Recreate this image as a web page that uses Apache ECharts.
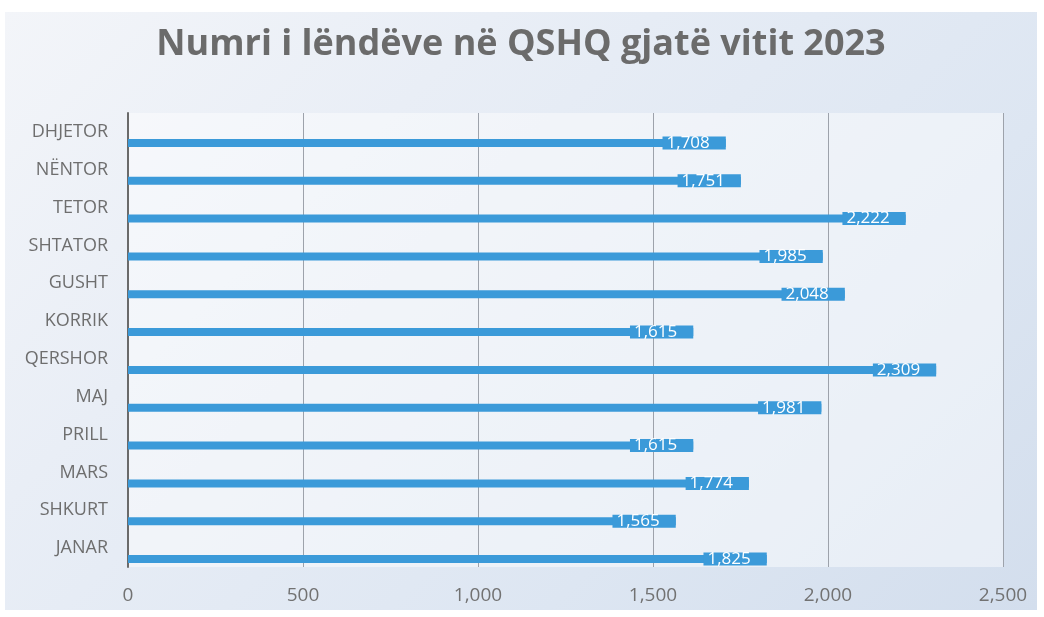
<!DOCTYPE html>
<html>
<head>
<meta charset="utf-8">
<script src="https://cdn.jsdelivr.net/npm/echarts@6/dist/echarts.min.js"></script>
<style>
html,body{margin:0;padding:0;background:#ffffff;}
#wrap{position:absolute;left:5px;top:12px;width:1032px;height:598px;
background:linear-gradient(135deg,#f3f5f9 0%,#e9eef6 30%,#dde6f2 70%,#d3deed 100%);}
#chart{width:1032px;height:598px;}
</style>
</head>
<body>
<div id="wrap"><div id="chart"></div></div>
<script>
const categories = ['JANAR','SHKURT','MARS','PRILL','MAJ','QERSHOR','KORRIK','GUSHT','SHTATOR','TETOR','NËNTOR','DHJETOR'];
const values = [1825,1565,1774,1615,1981,2309,1615,2048,1985,2222,1751,1708];
const xTicks = [0,500,1000,1500,2000,2500];
const titleText = 'Numri i lëndëve në QSHQ gjatë vitit 2023';

const chart = echarts.init(document.getElementById('chart'), null, {renderer:'canvas'});
const fontFam = '"Open Sans", sans-serif';
chart.setOption({
  backgroundColor: 'transparent',
  animation: false,
  title: {
    text: titleText,
    left: 'center',
    top: 10,
    padding: [5, 0, 5, 38],
    textStyle: {fontFamily: fontFam, fontSize: 36, fontWeight: 'bold', color: '#6b6b6b'}
  },
  grid: {left: 123, top: 101, width: 875, height: 454, show: true,
         backgroundColor: 'rgba(255,255,255,0.45)', borderWidth: 0},
  xAxis: {
    type: 'value', min: xTicks[0], max: xTicks[xTicks.length-1], interval: 500,
    axisLine: {show: false}, axisTick: {show: false},
    splitLine: {show: true, lineStyle: {color: '#9da2ab', width: 1}},
    axisLabel: {color: '#727272', fontSize: 19, fontFamily: fontFam, margin: 19,
      formatter: v => v.toLocaleString('en-US')}
  },
  yAxis: {
    type: 'category', data: categories,
    axisLine: {show: true, lineStyle: {color: '#6a6a6a', width: 2}},
    axisTick: {show: false},
    axisLabel: {color: '#6e6e6e', fontSize: 18, fontFamily: fontFam, margin: 20}
  },
  series: [
    {type: 'bar', data: values.map(() => null), barWidth: 8, barGap: '175%', silent: true},
    {type: 'bar', data: values, barWidth: 8, barGap: '175%',
     itemStyle: {color: '#3b9ad9'},
     label: {show: true, position: 'insideRight', distance: 0,
       formatter: p => p.value.toLocaleString('en-US'),
       color: '#ffffff', fontSize: 17, fontFamily: fontFam,
       backgroundColor: '#3b9ad9', padding: [0, 16, 0, 4], lineHeight: 13}
    }
  ]
});
</script>
</body>
</html>
